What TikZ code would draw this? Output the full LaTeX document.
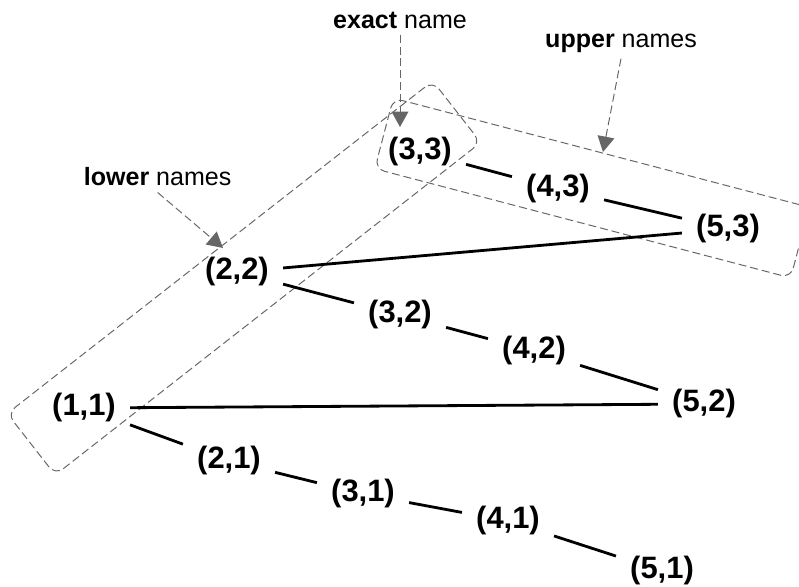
\documentclass[tikz,border=0pt]{standalone}
\usepackage{fontspec}
\setmainfont{Liberation Sans}
\usepackage{tikz}
\usetikzlibrary{arrows.meta,positioning}
\tikzset{
  cellNode/.style={font=\fontsize{22}{26}\selectfont\bfseries, inner xsep=0.35cm, inner ysep=0.1cm},
  cellLink/.style={-, line width=2pt, black},
  groupBox/.style={draw=black!60, line width=0.7pt, dash pattern=on 5.7pt off 2.8pt, rounded corners=0.25cm},
  noteLabel/.style={font=\fontsize{17.8}{21}\selectfont, inner sep=0.15cm},
  noteArrow/.style={-{Triangle[length=11pt, width=12pt]}, color=black!60, line width=0.7pt, dash pattern=on 5.7pt off 2.8pt}
}

\begin{document}
\begin{tikzpicture}
      \useasboundingbox (0,0) rectangle (19.975,-14.675);
      % group outlines
      \node[groupBox, rotate=38, minimum width=13.5cm, minimum height=1.95cm] (lowerBox) at (6.1,-6.95) {};
      \node[groupBox, rotate=-14.7, minimum width=10.75cm, minimum height=1.825cm] (upperBox) at (14.8,-4.7) {};
      % cells
      \node[cellNode] (c11) at (2.1,-10.2) {(1,1)};
      \node[cellNode] (c21) at (5.725,-11.525) {(2,1)};
      \node[cellNode] (c31) at (9.075,-12.35) {(3,1)};
      \node[cellNode] (c41) at (12.7,-13.025) {(4,1)};
      \node[cellNode] (c51) at (16.55,-14.275) {(5,1)};
      \node[cellNode] (c22) at (5.925,-6.8) {(2,2)};
      \node[cellNode] (c32) at (10.0,-7.875) {(3,2)};
      \node[cellNode] (c42) at (13.35,-8.775) {(4,2)};
      \node[cellNode] (c52) at (17.6,-10.1) {(5,2)};
      \node[cellNode] (c33) at (10.5,-3.8) {(3,3)};
      \node[cellNode] (c43) at (13.95,-4.725) {(4,3)};
      \node[cellNode] (c53) at (18.2,-5.725) {(5,3)};
      \draw[cellLink] (c11) -- (c21);
      \draw[cellLink] (c21) -- (c31);
      \draw[cellLink] (c31) -- (c41);
      \draw[cellLink] (c41) -- (c51);
      \draw[cellLink] (c11) -- (c52);
      \draw[cellLink] (c22) -- (c32);
      \draw[cellLink] (c32) -- (c42);
      \draw[cellLink] (c42) -- (c52);
      \draw[cellLink] (c22) -- (c53);
      \draw[cellLink] (c33) -- (c43);
      \draw[cellLink] (c43) -- (c53);
      % notes
      \node[noteLabel] (exactNote) at (10.0,-0.5) {\textbf{exact} name};
      \node[noteLabel] (upperNote) at (15.525,-1.075) {\textbf{upper} names};
      \node[noteLabel] (lowerNote) at (3.94,-4.425) {\textbf{lower} names};
      \coordinate (exactTip) at (10.0,-3.175);
      \coordinate (upperTip) at (15.075,-3.8);
      \coordinate (lowerTip) at (5.575,-6.2);
      \draw[noteArrow] (exactNote.south) -- (exactTip);
      \draw[noteArrow] (upperNote.south) -- (upperTip);
      \draw[noteArrow] (lowerNote.south) -- (lowerTip);
    \end{tikzpicture}
\end{document}
